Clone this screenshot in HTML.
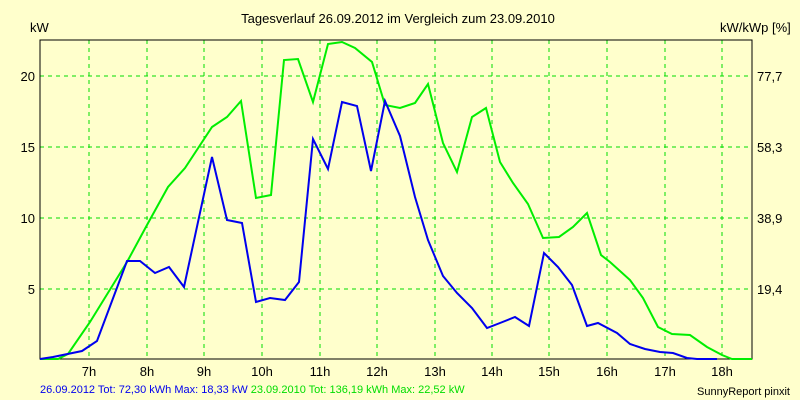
<!DOCTYPE html>
<html><head><style>body{margin:0;background:#ffffcc}svg{display:block}</style></head><body>
<svg width="800" height="400" xmlns="http://www.w3.org/2000/svg" font-family="Liberation Sans, sans-serif">
<rect width="800" height="400" fill="#ffffcc"/>
<text x="398" y="23" font-size="13" text-anchor="middle">Tagesverlauf 26.09.2012 im Vergleich zum 23.09.2010</text>
<text x="30" y="32" font-size="13">kW</text>
<text x="720" y="32" font-size="13">kW/kWp [%]</text>
<g stroke="#00dd00" stroke-dasharray="4,4" stroke-width="1">
<line x1="89" y1="40" x2="89" y2="359"/><line x1="147" y1="40" x2="147" y2="359"/><line x1="204" y1="40" x2="204" y2="359"/><line x1="262" y1="40" x2="262" y2="359"/><line x1="320" y1="40" x2="320" y2="359"/><line x1="377" y1="40" x2="377" y2="359"/><line x1="435" y1="40" x2="435" y2="359"/><line x1="492" y1="40" x2="492" y2="359"/><line x1="549" y1="40" x2="549" y2="359"/><line x1="607" y1="40" x2="607" y2="359"/><line x1="665" y1="40" x2="665" y2="359"/><line x1="722" y1="40" x2="722" y2="359"/>
<line x1="40" y1="76" x2="752" y2="76"/><line x1="40" y1="147" x2="752" y2="147"/><line x1="40" y1="218" x2="752" y2="218"/><line x1="40" y1="289" x2="752" y2="289"/>
</g>
<rect x="40" y="40" width="712" height="319" fill="none" stroke="#000" stroke-width="1"/>
<g font-size="13" text-anchor="end"><text x="35" y="81">20</text><text x="35" y="152">15</text><text x="35" y="223">10</text><text x="35" y="294">5</text></g>
<g font-size="13"><text x="757" y="81">77,7</text><text x="757" y="152">58,3</text><text x="757" y="223">38,9</text><text x="757" y="294">19,4</text></g>
<g font-size="13" text-anchor="middle"><text x="89" y="376">7h</text><text x="147" y="376">8h</text><text x="204" y="376">9h</text><text x="262" y="376">10h</text><text x="320" y="376">11h</text><text x="377" y="376">12h</text><text x="435" y="376">13h</text><text x="492" y="376">14h</text><text x="549" y="376">15h</text><text x="607" y="376">16h</text><text x="665" y="376">17h</text><text x="722" y="376">18h</text></g>
<polyline fill="none" stroke="#00ee00" stroke-width="2" points="40,359 58,359 68,354 90,322 127,262 147,225 168,187 185,168 212,127 227,117 241,101 256,198 271,195 284,60 298,59 313,102 328,44 342,42 355,48 372,62 385,105 400,108 415,103 428,84 443,143 457,172 472,117 486,108 500,162 513,183 528,204 543,238 559,237 573,227 587,213 601,255 610,262 630,280 643,298 658,327 672,334 690,335 707,347 722,355 732,359 752,359"/>
<polyline fill="none" stroke="#0000ee" stroke-width="2" points="40,359 53,357 82,351 97,341 127,261 140,261 155,273 169,267 184,287 212,157 227,220 242,223 256,302 270,298 285,300 299,282 313,139 328,169 342,102 357,106 371,171 385,101 400,136 415,197 428,240 443,276 457,293 472,308 487,328 500,323 515,317 529,326 544,253 558,267 572,285 587,326 598,323 617,333 630,344 645,349 660,352 673,353 687,358 697,359 717,359"/>
<text x="40" y="393" font-size="11"><tspan fill="#0000ee">26.09.2012 Tot: 72,30 kWh Max: 18,33 kW </tspan><tspan fill="#00dd00">23.09.2010 Tot: 136,19 kWh Max: 22,52 kW</tspan></text>
<text x="790" y="395" font-size="11" text-anchor="end">SunnyReport pinxit</text>
</svg>
</body></html>
